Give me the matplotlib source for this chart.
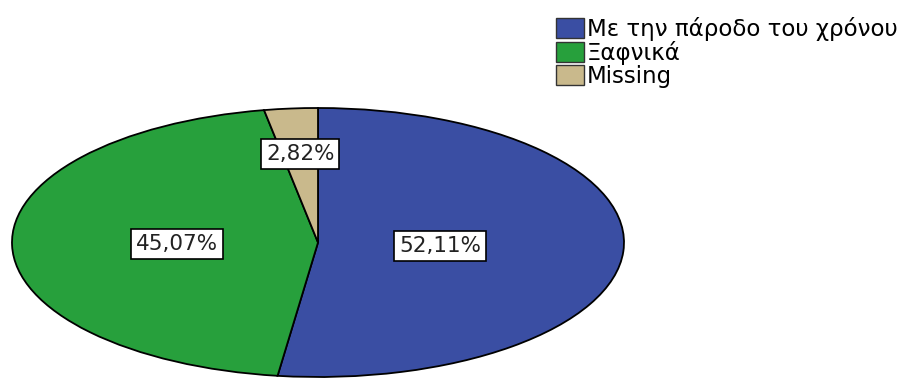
import numpy as np
from matplotlib import pyplot as plt

labels = ["Με την πάροδο του χρόνου", "Ξαφνικά", "Missing"]
values = [52.11, 45.07, 2.82]
colors = ["#3a4ea3", "#27a03c", "#c9b98c"]
label_dist = [0.40, 0.46, 0.66]

W, H = 905, 378
fig = plt.figure(figsize=(W / 100, H / 100), dpi=100)
plt.rcParams['font.family'] = ['DejaVu Sans']

# pie area in pixels: left, bottom, width, height
ax = fig.add_axes([12 / W, 1 / H, 612 / W, 269 / H])
wedges, _ = ax.pie(values, colors=colors, startangle=90, counterclock=False,
                   wedgeprops=dict(edgecolor="black", linewidth=1.3))
ax.set_aspect("auto")
ax.set_xlim(-1, 1)
ax.set_ylim(-1, 1)

for w, v, d in zip(wedges, values, label_dist):
    ang = np.deg2rad((w.theta1 + w.theta2) / 2)
    txt = f"{v:.2f}%".replace(".", ",")
    ax.text(d * np.cos(ang), d * np.sin(ang), txt, ha="center", va="center",
            fontsize=15.5, color="#222222",
            bbox=dict(boxstyle="square,pad=0.22", fc="white", ec="black", lw=1.2))

handles = [plt.Rectangle((0, 0), 1, 1, fc=c, ec="#333333") for c in colors]
fig.legend(handles, labels, loc="upper left", bbox_to_anchor=(556 / W, 1 - 17 / H),
           frameon=False, fontsize=16.5, handlelength=1.2, handleheight=0.95,
           handletextpad=0.15, labelspacing=0.0, borderpad=0, borderaxespad=0)

fig.savefig("out.png", dpi=100)
